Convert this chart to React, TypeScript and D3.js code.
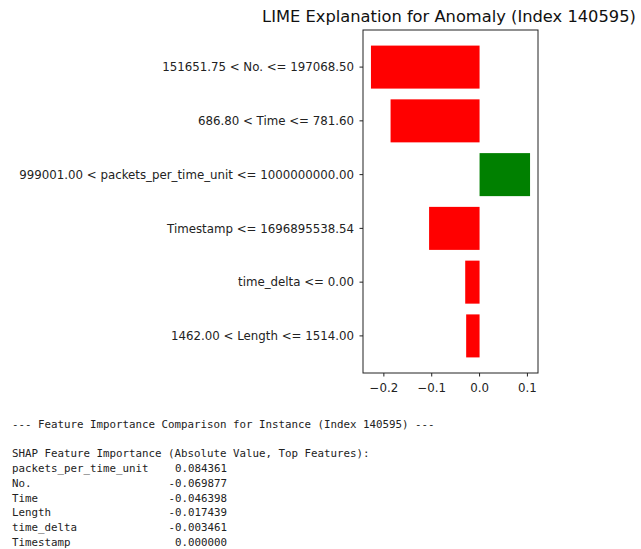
import React from "react";
import * as d3 from "d3";

const title = "LIME Explanation for Anomaly (Index 140595)";
const features = [
  "151651.75 < No. <= 197068.50",
  "686.80 < Time <= 781.60",
  "999001.00 < packets_per_time_unit <= 1000000000.00",
  "Timestamp <= 1696895538.54",
  "time_delta <= 0.00",
  "1462.00 < Length <= 1514.00",
];
const weights = [-0.227, -0.186, 0.1055, -0.1055, -0.030, -0.028];
const xTicks = [-0.2, -0.1, 0.0, 0.1];

const headerLine = "--- Feature Importance Comparison for Instance (Index 140595) ---";
const shapHeader = "SHAP Feature Importance (Absolute Value, Top Features):";
const shapFeatures = ["packets_per_time_unit", "No.", "Time", "Length", "time_delta", "Timestamp"];
const shapValues = ["0.084361", "-0.069877", "-0.046398", "-0.017439", "-0.003461", "0.000000"];

export default function App() {
  const left = 363, right = 538, top = 30, bottom = 373;
  const minV = d3.min(weights)!, maxV = d3.max(weights)!;
  const span = maxV - minV;
  const x = d3.scaleLinear().domain([minV - span * 0.05, maxV + span * 0.05]).range([left, right]);
  const n = features.length;
  const y = d3.scaleLinear().domain([-0.4 - (n - 0.2) * 0.05, n - 1 + 0.4 + (n - 0.2) * 0.05]).range([top, bottom]);
  const barH = y(0.8) - y(0);
  const sans = "'DejaVu Sans', sans-serif";
  const mono = "'DejaVu Sans Mono', monospace";
  const lineY = [424, 453, 468.3, 483, 497.8, 512.4, 527.2, 541.8];
  return (
    <svg width={641} height={549} style={{ position: "absolute", left: 0, top: 0, background: "#fff" }}>
      <text x={449} y={22} textAnchor="middle" fontFamily={sans} fontSize={16.3} fill="#111">{title}</text>
      {weights.map((w, i) => (
        <rect key={i} x={x(Math.min(0, w))} y={y(i) - barH / 2} width={Math.abs(x(w) - x(0))} height={barH}
          fill={w > 0 ? "#008000" : "#ff0000"} />
      ))}
      <rect x={left} y={top} width={right - left} height={bottom - top} fill="none" stroke="#222" strokeWidth={1} />
      {features.map((f, i) => (
        <g key={i}>
          <line x1={left - 3.5} x2={left} y1={y(i)} y2={y(i)} stroke="#222" />
          <text x={left - 9} y={y(i)} dy="0.35em" textAnchor="end" fontFamily={sans} fontSize={11.8} fill="#222">{f}</text>
        </g>
      ))}
      {xTicks.map((t, i) => (
        <g key={i}>
          <line x1={x(t)} x2={x(t)} y1={bottom} y2={bottom + 3.5} stroke="#222" />
          <text x={x(t)} y={391.5} textAnchor="middle" fontFamily={sans} fontSize={11.8} fill="#222">{d3.format(".1f")(t).replace("-", "\u2212")}</text>
        </g>
      ))}
      <text x={12} y={lineY[0]} dy="0.35em" fontFamily={mono} fontSize={10.8} fill="#222" style={{ whiteSpace: "pre" }}>{headerLine}</text>
      <text x={12} y={lineY[1]} dy="0.35em" fontFamily={mono} fontSize={10.8} fill="#222" style={{ whiteSpace: "pre" }}>{shapHeader}</text>
      {shapFeatures.map((f, i) => (
        <g key={i}>
          <text x={12} y={lineY[i + 2]} dy="0.35em" fontFamily={mono} fontSize={10.8} fill="#222">{f}</text>
          <text x={227} y={lineY[i + 2]} dy="0.35em" textAnchor="end" fontFamily={mono} fontSize={10.8} fill="#222">{shapValues[i]}</text>
        </g>
      ))}
    </svg>
  );
}
